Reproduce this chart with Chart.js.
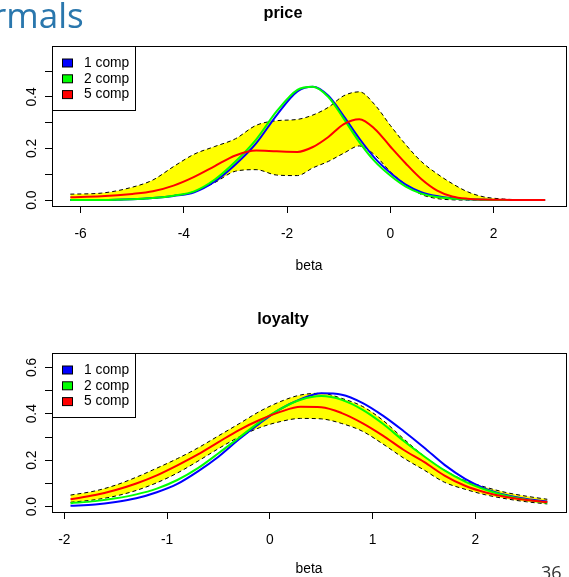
<!DOCTYPE html>
<html>
<head>
<meta charset="utf-8">
<script src="https://cdn.jsdelivr.net/npm/chart.js@4.4.1/dist/chart.umd.min.js"></script>
<style>
  body { margin: 0; background: #fff; }
  #page { position: relative; width: 569px; height: 577px; overflow: hidden; background: #fff; }
  #heading { position: absolute; left: -8px; top: -9px; font-family: 'Open Sans', sans-serif; font-size: 35px; color: #2a77ad; white-space: nowrap; }
  #pageNo { position: absolute; left: 541px; top: 560px; font-family: 'Open Sans', sans-serif; font-size: 18px; color: #333; }
  canvas { position: absolute; left: 0; }
  #priceChart { top: 0; }
  #loyaltyChart { top: 290px; }
</style>
</head>
<body>
<div id="page">
  <canvas id="priceChart" width="569" height="274"></canvas>
  <canvas id="loyaltyChart" width="569" height="287"></canvas>
  <div id="heading">rmals</div>
  <div id="pageNo">36</div>
</div>
<script>
// price panel
const priceX = [-6.2, -5.6, -5.0, -4.6, -4.2, -3.8, -3.4, -3.0, -2.6, -2.2, -1.8, -1.5, -1.2, -0.9, -0.6, -0.3, 0, 0.3, 0.6, 0.9, 1.2, 1.5, 1.8, 2.2, 2.6, 3.0];
const priceOne = [0, 0, 0.003, 0.008, 0.016, 0.03, 0.072, 0.138, 0.22, 0.33, 0.422, 0.44, 0.405, 0.325, 0.239, 0.163, 0.106, 0.06, 0.031, 0.0155, 0.007, 0.003, 0.001, 0, 0, 0];
const priceTwo = [0, 0, 0.003, 0.008, 0.017, 0.034, 0.08, 0.15, 0.235, 0.345, 0.428, 0.44, 0.4, 0.315, 0.225, 0.15, 0.095, 0.052, 0.025, 0.012, 0.006, 0.003, 0.001, 0, 0, 0];
const priceFive = [0.011, 0.015, 0.024, 0.034, 0.056, 0.09, 0.132, 0.173, 0.192, 0.189, 0.187, 0.206, 0.245, 0.295, 0.314, 0.276, 0.208, 0.142, 0.082, 0.038, 0.014, 0.005, 0.002, 0.001, 0, 0];
const priceUpper = [0.023, 0.027, 0.05, 0.078, 0.13, 0.178, 0.208, 0.238, 0.29, 0.308, 0.313, 0.33, 0.36, 0.405, 0.42, 0.37, 0.29, 0.215, 0.15, 0.103, 0.064, 0.032, 0.013, 0.004, 0.001, 0];
const priceLower = [0, 0, 0.003, 0.007, 0.016, 0.033, 0.068, 0.112, 0.118, 0.097, 0.095, 0.125, 0.15, 0.182, 0.21, 0.175, 0.11, 0.06, 0.022, 0.006, 0.001, 0, 0, 0, 0, 0];
const priceXTicks = [-6, -4, -2, 0, 2];
const priceYTicks = [0, 0.1, 0.2, 0.3, 0.4, 0.5];
const priceYLabels = ['0.0', '', '0.2', '', '0.4', ''];

// loyalty panel
const loyaltyX = [-1.94, -1.7, -1.5, -1.3, -1.1, -0.9, -0.7, -0.5, -0.3, -0.1, 0.1, 0.3, 0.5, 0.7, 0.9, 1.1, 1.3, 1.5, 1.7, 1.9, 2.1, 2.3, 2.5, 2.7];
const loyaltyOne = [0.004, 0.009, 0.02, 0.036, 0.062, 0.098, 0.152, 0.215, 0.29, 0.358, 0.42, 0.463, 0.488, 0.482, 0.447, 0.392, 0.326, 0.255, 0.18, 0.12, 0.077, 0.05, 0.033, 0.022];
const loyaltyTwo = [0.015, 0.024, 0.036, 0.053, 0.078, 0.115, 0.166, 0.23, 0.297, 0.364, 0.42, 0.46, 0.476, 0.46, 0.418, 0.357, 0.284, 0.217, 0.156, 0.108, 0.073, 0.047, 0.03, 0.017];
const loyaltyFive = [0.032, 0.05, 0.072, 0.1, 0.135, 0.178, 0.225, 0.278, 0.33, 0.373, 0.408, 0.43, 0.428, 0.403, 0.36, 0.306, 0.245, 0.193, 0.134, 0.09, 0.061, 0.042, 0.029, 0.02];
const loyaltyUpper = [0.05, 0.068, 0.093, 0.127, 0.166, 0.207, 0.253, 0.305, 0.357, 0.41, 0.452, 0.481, 0.488, 0.466, 0.432, 0.372, 0.293, 0.218, 0.157, 0.112, 0.084, 0.061, 0.045, 0.032];
const loyaltyLower = [0.019, 0.03, 0.046, 0.07, 0.103, 0.145, 0.196, 0.25, 0.3, 0.34, 0.366, 0.38, 0.378, 0.358, 0.325, 0.27, 0.21, 0.158, 0.105, 0.075, 0.051, 0.034, 0.021, 0.012];
const loyaltyXTicks = [-2, -1, 0, 1, 2];
const loyaltyYTicks = [0, 0.1, 0.2, 0.3, 0.4, 0.5, 0.6];
const loyaltyYLabels = ['0.0', '', '0.2', '', '0.4', '', '0.6'];

const seriesNames = ['1 comp', '2 comp', '5 comp'];
const seriesColors = ['#0000ff', '#00ff00', '#ff0000'];
const bandColor = '#ffff00';

Chart.defaults.font.family = "'Liberation Sans', Arial, sans-serif";
Chart.defaults.font.size = 13.8;
Chart.defaults.color = '#000';

// R style box around the plot region plus the legend in the top left corner
const framePlugin = {
    id: 'frame',
    afterDraw(chart) {
        const ctx = chart.ctx;
        const a = chart.chartArea;
        const l = Math.round(a.left) + 0.5;
        const t = Math.round(a.top) + 0.5;
        ctx.save();
        ctx.strokeStyle = '#000';
        ctx.lineWidth = 1;
        ctx.strokeRect(l, t, Math.round(a.right - a.left), Math.round(a.bottom - a.top));

        ctx.fillStyle = '#fff';
        ctx.fillRect(l, t, 83, 64);
        ctx.strokeRect(l, t, 83, 64);
        ctx.font = "13.8px 'Liberation Sans', Arial, sans-serif";
        ctx.textBaseline = 'middle';
        seriesNames.forEach((name, i) => {
            const cy = t + 16.5 + i * 15.8;
            ctx.fillStyle = seriesColors[i];
            ctx.fillRect(l + 10, cy - 4, 10, 8);
            ctx.strokeRect(l + 10, cy - 4, 10, 8);
            ctx.fillStyle = '#000';
            ctx.fillText(name, l + 31.5, cy);
        });
        ctx.restore();
    }
};

function plotDensity(id, title, xs, series, upper, lower, opts) {
    const pts = (ys) => xs.map((x, i) => ({ x: x, y: ys[i] }));
    const datasets = series.map((ys, i) => ({
        label: seriesNames[i],
        data: pts(ys),
        borderColor: seriesColors[i],
        backgroundColor: seriesColors[i],
        borderWidth: 2,
        fill: false,
        order: 3 - i
    }));
    datasets.push({
        label: 'upper',
        data: pts(upper),
        borderColor: '#000',
        borderWidth: 1,
        borderDash: [4, 3],
        backgroundColor: bandColor,
        fill: 4,
        order: 4
    });
    datasets.push({
        label: 'lower',
        data: pts(lower),
        borderColor: '#000',
        borderWidth: 1,
        borderDash: [4, 3],
        fill: false,
        order: 5
    });

    return new Chart(document.getElementById(id), {
        type: 'line',
        data: { datasets: datasets },
        options: {
            responsive: false,
            animation: false,
            events: [],
            layout: { padding: { left: 0, right: 3, top: 0, bottom: 0 } },
            elements: {
                point: { radius: 0 },
                line: { cubicInterpolationMode: 'monotone' }
            },
            plugins: {
                legend: { display: false },
                tooltip: { enabled: false },
                filler: { drawTime: 'beforeDatasetsDraw' },
                title: {
                    display: true,
                    text: title,
                    color: '#000',
                    font: { size: 16.3, weight: 'bold' },
                    padding: opts.titlePadding
                }
            },
            scales: {
                x: {
                    type: 'linear',
                    min: opts.xMin,
                    max: opts.xMax,
                    afterBuildTicks: (s) => { s.ticks = opts.xTicks.map(v => ({ value: v })); },
                    afterFit: (s) => { s.height = opts.xHeight; },
                    ticks: { padding: 13, maxRotation: 0, autoSkip: false, callback: (v) => String(v) },
                    grid: { drawOnChartArea: false, drawTicks: true, tickLength: 7, color: '#000' },
                    border: { display: false },
                    title: { display: true, text: 'beta', padding: { top: 0, bottom: 0 } }
                },
                y: {
                    type: 'linear',
                    min: opts.yMin,
                    max: opts.yMax,
                    afterBuildTicks: (s) => { s.ticks = opts.yTicks.map(v => ({ value: v })); },
                    afterFit: (s) => { s.width = 52; },
                    ticks: {
                        padding: 3.4,
                        minRotation: 90,
                        maxRotation: 90,
                        crossAlign: 'center',
                        autoSkip: false,
                        callback: (v, i) => opts.yLabels[i]
                    },
                    grid: { drawOnChartArea: false, drawTicks: true, tickLength: 7, color: '#000' },
                    border: { display: false }
                }
            }
        },
        plugins: [framePlugin]
    });
}

plotDensity('priceChart', 'price', priceX, [priceOne, priceTwo, priceFive], priceUpper, priceLower, {
    xMin: -6.555, xMax: 3.405, yMin: -0.023, yMax: 0.598,
    xTicks: priceXTicks, yTicks: priceYTicks, yLabels: priceYLabels,
    titlePadding: { top: 3.7, bottom: 22.7 }, xHeight: 68
});

plotDensity('loyaltyChart', 'loyalty', loyaltyX, [loyaltyOne, loyaltyTwo, loyaltyFive], loyaltyUpper, loyaltyLower, {
    xMin: -2.12, xMax: 2.882, yMin: -0.0228, yMax: 0.663,
    xTicks: loyaltyXTicks, yTicks: loyaltyYTicks, yLabels: loyaltyYLabels,
    titlePadding: { top: 20, bottom: 23.1 }, xHeight: 65
});
</script>
</body>
</html>
